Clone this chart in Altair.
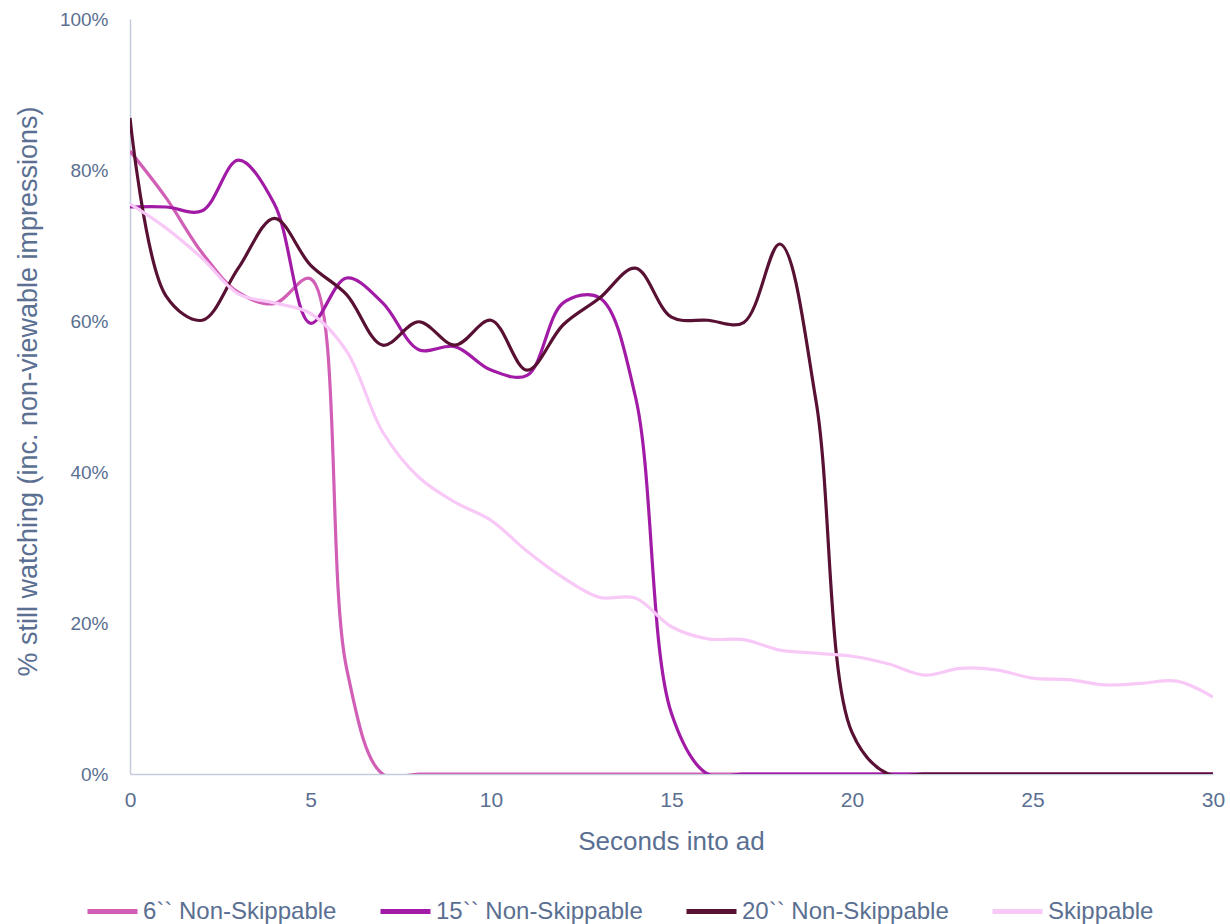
import altair as alt
import pandas as pd

# Share of impressions still watching at each second of the ad (percent)
seconds = list(range(31))
series_names = ["6`` Non-Skippable", "15`` Non-Skippable", "20`` Non-Skippable", "Skippable"]

six_non_skip = [82.5, 76.3, 69.0, 63.8, 62.3, 65.6, 14.0, 0, 0, 0,
                0, 0, 0, 0, 0, 0, 0, 0, 0, 0,
                0, 0, 0, 0, 0, 0, 0, 0, 0, 0, 0]
fifteen_non_skip = [75.1, 75.1, 74.6, 81.3, 75.5, 59.7, 65.7, 62.4, 56.2, 56.6,
                    53.5, 52.8, 62.4, 63.1, 50.0, 8.0, 0, 0, 0, 0,
                    0, 0, 0, 0, 0, 0, 0, 0, 0, 0, 0]
twenty_non_skip = [86.9, 63.3, 60.1, 67.0, 73.6, 67.4, 63.5, 56.8, 59.9, 56.8,
                   60.1, 53.5, 59.5, 63.0, 67.0, 60.5, 60.1, 59.8, 70.2, 49.5,
                   5.5, 0, 0, 0, 0, 0, 0, 0, 0, 0, 0]
skippable = [75.5, 72.3, 68.3, 63.6, 62.4, 61.0, 56.0, 45.3, 39.3, 36.0,
             33.6, 29.5, 26.0, 23.4, 23.3, 19.5, 17.9, 17.8, 16.4, 16.0,
             15.6, 14.6, 13.1, 14.0, 13.8, 12.7, 12.5, 11.8, 12.0, 12.3, 10.2]

series_colors = ["#D25FB6", "#A21BA6", "#581133", "#F8C9F7"]

rows = []
for name, values in zip(series_names, [six_non_skip, fifteen_non_skip, twenty_non_skip, skippable]):
    for s, v in zip(seconds, values):
        rows.append({"series": name, "second": s, "share": v / 100.0})
df = pd.DataFrame(rows)

text_color = "#5A6F91"
axis_color = "#C3CCDB"
font = "Liberation Sans"

chart = alt.Chart(df).mark_line(
    interpolate="catmull-rom", strokeWidth=3.2, clip=True
).encode(
    x=alt.X(
        "second:Q",
        scale=alt.Scale(domain=[0, 30], nice=False),
        axis=alt.Axis(
            values=[0, 5, 10, 15, 20, 25, 30],
            title="Seconds into ad",
            grid=False, ticks=False, labelFlush=False,
            labelPadding=15, labelFontSize=21, labelColor=text_color, labelFont=font,
            titleFontSize=26, titleFontWeight="normal", titleColor=text_color, titleFont=font,
            titleX=541, titleY=67, titleBaseline="middle", titleAlign="center",
            domainColor=axis_color, domainWidth=1.5,
        ),
    ),
    y=alt.Y(
        "share:Q",
        scale=alt.Scale(domain=[0, 1], nice=False),
        axis=alt.Axis(
            values=[0, 0.2, 0.4, 0.6, 0.8, 1.0],
            format=".0%",
            title="% still watching (inc. non-viewable impressions)",
            grid=False, ticks=False, labelFlush=False,
            labelPadding=22, labelFontSize=19, labelColor=text_color, labelFont=font,
            titleFontSize=27, titleFontWeight="normal", titleColor=text_color, titleFont=font,
            titleAngle=-90, titleX=-102, titleY=372, titleBaseline="middle", titleAlign="center",
            domainColor=axis_color, domainWidth=1.5,
        ),
    ),
    color=alt.Color(
        "series:N",
        scale=alt.Scale(domain=series_names, range=series_colors),
        sort=series_names,
        legend=alt.Legend(
            title=None, orient="none", direction="horizontal",
            legendX=-45, legendY=865,
            symbolType="stroke", symbolSize=2500, symbolStrokeWidth=5,
            labelFontSize=24, labelColor=text_color, labelFont=font, labelLimit=0,
            labelOffset=3, columnPadding=33, gridAlign="none",
        ),
    ),
).properties(
    width=1083,
    height=755,
    padding={"left": 130, "top": 19, "right": 17, "bottom": 150},
    autosize=alt.AutoSizeParams(type="none"),
).configure_view(stroke=None)

chart.save("out.html", embed_options={"renderer": "svg", "actions": False})
